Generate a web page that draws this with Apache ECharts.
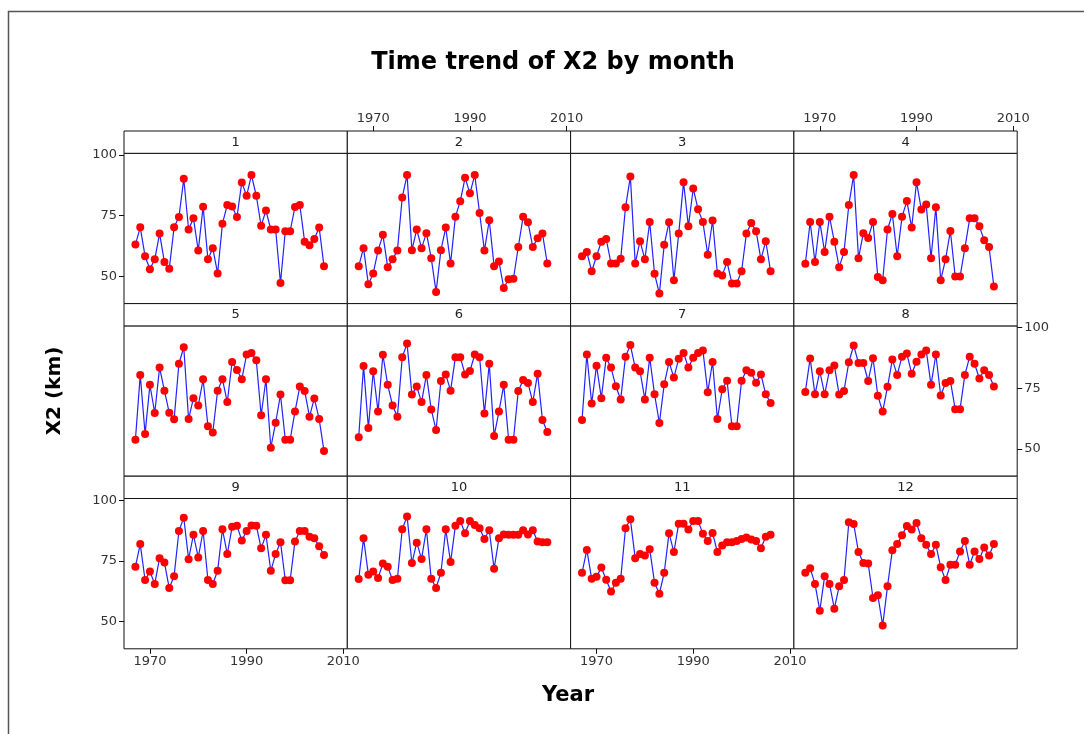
<!DOCTYPE html>
<html><head><meta charset="utf-8">
<script src="https://cdn.jsdelivr.net/npm/echarts@6/dist/echarts.min.js"></script>
<style>html,body{margin:0;padding:0;background:#fff}#c{width:1084px;height:734px}</style>
</head><body><div id="c"></div><script>
const years = [1967,1968,1969,1970,1971,1972,1973,1974,1975,1976,1977,1978,1979,1980,1981,1982,1983,1984,1985,1986,1987,1988,1989,1990,1991,1992,1993,1994,1995,1996,1997,1998,1999,2000,2001,2002,2003,2004,2005,2006];
const jan = [63.1,70.2,58.3,52.9,57.0,67.6,55.9,53.1,70.2,74.4,90.2,69.3,73.9,60.6,78.7,57.0,61.6,51.2,71.7,79.4,78.8,74.4,88.7,83.2,91.7,83.2,70.8,77.1,69.3,69.3,47.3,68.6,68.6,78.6,79.4,64.3,62.8,65.4,70.1,54.2];
const feb = [54.2,61.6,46.7,51.2,60.6,67.1,53.8,57.0,60.6,82.5,91.7,60.8,69.3,61.6,67.8,57.5,43.6,60.8,70.1,55.3,74.6,80.9,90.6,84.2,91.7,76.1,60.6,73.1,54.2,56.1,45.2,48.8,49.0,62.1,74.5,72.3,62.1,65.7,67.6,55.3];
const mar = [58.3,60.0,52.1,58.3,64.3,65.4,55.3,55.3,57.2,78.5,91.1,55.3,64.5,57.0,72.4,51.1,42.9,63.0,72.3,48.4,67.6,88.8,70.6,86.2,77.6,72.4,58.9,73.0,51.2,50.4,55.9,47.1,47.1,52.1,67.6,72.0,68.6,57.0,64.5,52.1];
const apr = [55.2,72.4,55.9,72.4,60.0,74.6,64.3,53.8,60.0,79.4,91.7,57.5,67.8,65.8,72.4,49.7,48.4,69.3,75.7,58.3,74.5,81.0,70.1,88.8,77.5,79.6,57.5,78.5,48.4,57.0,68.7,49.9,49.9,61.6,73.9,73.9,70.6,64.9,62.1,45.8];
const may = [53.8,80.5,56.2,76.4,64.8,83.5,74.0,64.9,62.2,85.1,91.9,62.3,70.9,67.9,78.7,59.4,56.8,74.0,78.7,69.3,85.8,82.5,78.7,88.9,89.5,86.5,63.9,78.7,50.5,60.8,72.4,53.8,53.8,65.4,75.7,73.9,63.3,70.8,62.3,49.2];
const jun = [54.8,84.2,58.6,82.0,65.4,88.8,76.4,67.9,63.3,87.8,93.4,72.4,75.7,69.3,80.5,66.3,57.8,78.0,80.7,74.0,87.8,87.8,80.7,82.1,88.9,87.8,64.6,85.1,55.3,65.4,76.4,53.8,53.8,73.9,78.4,77.2,69.3,81.0,61.9,57.0];
const jul = [61.9,88.9,68.7,84.3,70.9,87.6,83.5,75.8,70.4,88.0,92.8,83.5,82.0,70.4,87.6,72.5,60.7,76.6,85.8,79.4,87.2,89.5,83.5,87.6,89.5,90.6,73.4,85.8,62.3,74.6,78.1,59.4,59.4,78.1,82.4,81.4,77.3,80.7,72.5,68.9];
const aug = [73.5,87.3,72.5,82.0,72.5,82.4,84.4,72.4,73.9,85.7,92.6,85.4,85.4,78.0,87.4,71.9,65.4,75.6,86.8,80.5,88.0,89.3,81.0,85.9,88.9,90.6,76.4,88.9,72.0,77.2,78.0,66.4,66.4,80.5,88.0,85.1,79.0,82.4,80.5,75.7];
const sep = [72.6,81.9,67.1,70.6,65.5,76.1,74.3,63.8,68.7,87.3,92.8,75.7,85.7,76.4,87.3,67.1,65.5,70.9,88.0,77.8,89.0,89.5,83.4,87.3,89.6,89.5,80.2,85.7,70.9,77.8,82.7,67.0,67.0,83.0,87.3,87.3,84.9,84.3,81.0,77.4];
const oct = [67.5,84.3,69.3,70.6,67.9,73.9,72.6,67.1,67.6,88.0,93.3,74.1,82.5,75.8,88.0,67.6,63.8,70.1,88.0,74.5,89.5,91.4,86.4,91.4,89.8,88.4,84.0,87.6,71.7,84.3,85.9,85.7,85.7,85.7,87.6,85.9,87.6,83.0,82.7,82.7];
const nov = [70.1,79.5,67.6,68.5,72.3,67.2,62.4,66.0,67.6,88.4,92.1,76.1,77.8,77.2,79.8,66.0,61.5,70.1,86.4,78.6,90.3,90.3,87.9,91.4,91.4,86.2,83.2,86.5,78.6,81.3,82.7,82.7,83.2,84.0,84.6,83.8,83.2,80.2,84.9,85.7];
const dec = [70.1,72.0,65.5,54.5,68.7,65.5,55.3,64.5,67.1,90.9,90.2,78.6,74.1,73.9,59.7,60.8,48.4,64.5,79.4,81.9,85.5,89.4,87.9,90.6,84.3,81.6,77.8,81.6,72.4,67.1,73.4,73.4,78.9,83.2,73.4,78.9,75.8,80.5,77.2,81.9];
const months = ['1','2','3','4','5','6','7','8','9','10','11','12'];
const monthValues = [jan,feb,mar,apr,may,jun,jul,aug,sep,oct,nov,dec];
const xTicks = [1970,1990,2010];
const yTicks = [50,75,100];

const X_MIN = 1964.64, X_MAX = 2010.82, Y_MIN = 38.78, Y_MAX = 100.68;
const colX = [124, 347.3, 570.6, 793.9], colW = 223.3;
const stripTop = [131, 303.6, 476.2], stripH = 22.3, panelH = 150.3;
const FONT = 'DejaVu Sans';
const FRAME = '#111';
const plain = v => String(v);

const grids = [], xAxes = [], yAxes = [], series = [], graphics = [];
months.forEach((m, i) => {
  const r = Math.floor(i / 4), c = i % 4;
  grids.push({left: colX[c], top: stripTop[r] + stripH, width: colW, height: panelH,
    show: true, borderColor: FRAME, borderWidth: 1, backgroundColor: '#fff', containLabel: false, outerBoundsMode: 'none'});
  const topX = (r === 0 && (c === 1 || c === 3));
  const botX = (r === 2 && (c === 0 || c === 2));
  const showX = topX || botX;
  xAxes.push({type: 'value', gridIndex: i, min: X_MIN, max: X_MAX,
    position: topX ? 'top' : 'bottom', offset: topX ? stripH : 0,
    splitLine: {show: false}, axisLine: {show: false},
    axisTick: {show: showX, length: 5, customValues: xTicks, lineStyle: {color: FRAME}},
    axisLabel: {show: showX, customValues: xTicks, formatter: plain, margin: 6, fontFamily: FONT, fontSize: 13, color: '#333'}});
  const leftY = (c === 0 && (r === 0 || r === 2));
  const rightY = (c === 3 && r === 1);
  const showY = leftY || rightY;
  yAxes.push({type: 'value', gridIndex: i, min: Y_MIN, max: Y_MAX,
    position: rightY ? 'right' : 'left',
    splitLine: {show: false}, axisLine: {show: false},
    axisTick: {show: showY, length: 5, customValues: yTicks, lineStyle: {color: FRAME}},
    axisLabel: {show: showY, customValues: yTicks, formatter: plain, margin: 7, fontFamily: FONT, fontSize: 13, color: '#333'}});
  series.push({type: 'line', xAxisIndex: i, yAxisIndex: i,
    data: years.map((y, k) => [y, monthValues[i][k]]),
    symbol: 'circle', symbolSize: 8, showSymbol: true,
    lineStyle: {color: '#2222ff', width: 1.2},
    itemStyle: {color: '#ff0000', borderWidth: 0},
    emphasis: {disabled: true}, animation: false});
  graphics.push({type: 'rect', shape: {x: colX[c], y: stripTop[r], width: colW, height: stripH},
    style: {fill: '#fff', stroke: FRAME, lineWidth: 1}, z: 10});
  graphics.push({type: 'text', x: colX[c] + colW / 2, y: stripTop[r] + stripH / 2,
    style: {text: m, fill: '#222', font: '13px "DejaVu Sans"', textAlign: 'center', textVerticalAlign: 'middle'}, z: 11});
});

graphics.push({type: 'polyline', shape: {points: [[8.5, 734], [8.5, 11.5], [1084, 11.5]]},
  style: {stroke: '#555', lineWidth: 1.5, fill: null}, z: 5});
graphics.push({type: 'text', x: 553, y: 63, style: {text: 'Time trend of X2 by month', fill: '#000',
  font: 'bold 24px "DejaVu Sans"', textAlign: 'center', textVerticalAlign: 'middle'}, z: 11});
graphics.push({type: 'text', x: 568, y: 696, style: {text: 'Year', fill: '#000',
  font: 'bold 21px "DejaVu Sans"', textAlign: 'center', textVerticalAlign: 'middle'}, z: 11});
graphics.push({type: 'text', x: 55, y: 391, rotation: Math.PI / 2, style: {text: 'X2 (km)', fill: '#000',
  font: 'bold 20px "DejaVu Sans"', textAlign: 'center', textVerticalAlign: 'middle'}, z: 11});

const chart = echarts.init(document.getElementById('c'), null, {renderer: 'canvas'});
chart.setOption({animation: false, backgroundColor: '#fff',
  grid: grids, xAxis: xAxes, yAxis: yAxes, series: series, graphic: graphics});
</script></body></html>
